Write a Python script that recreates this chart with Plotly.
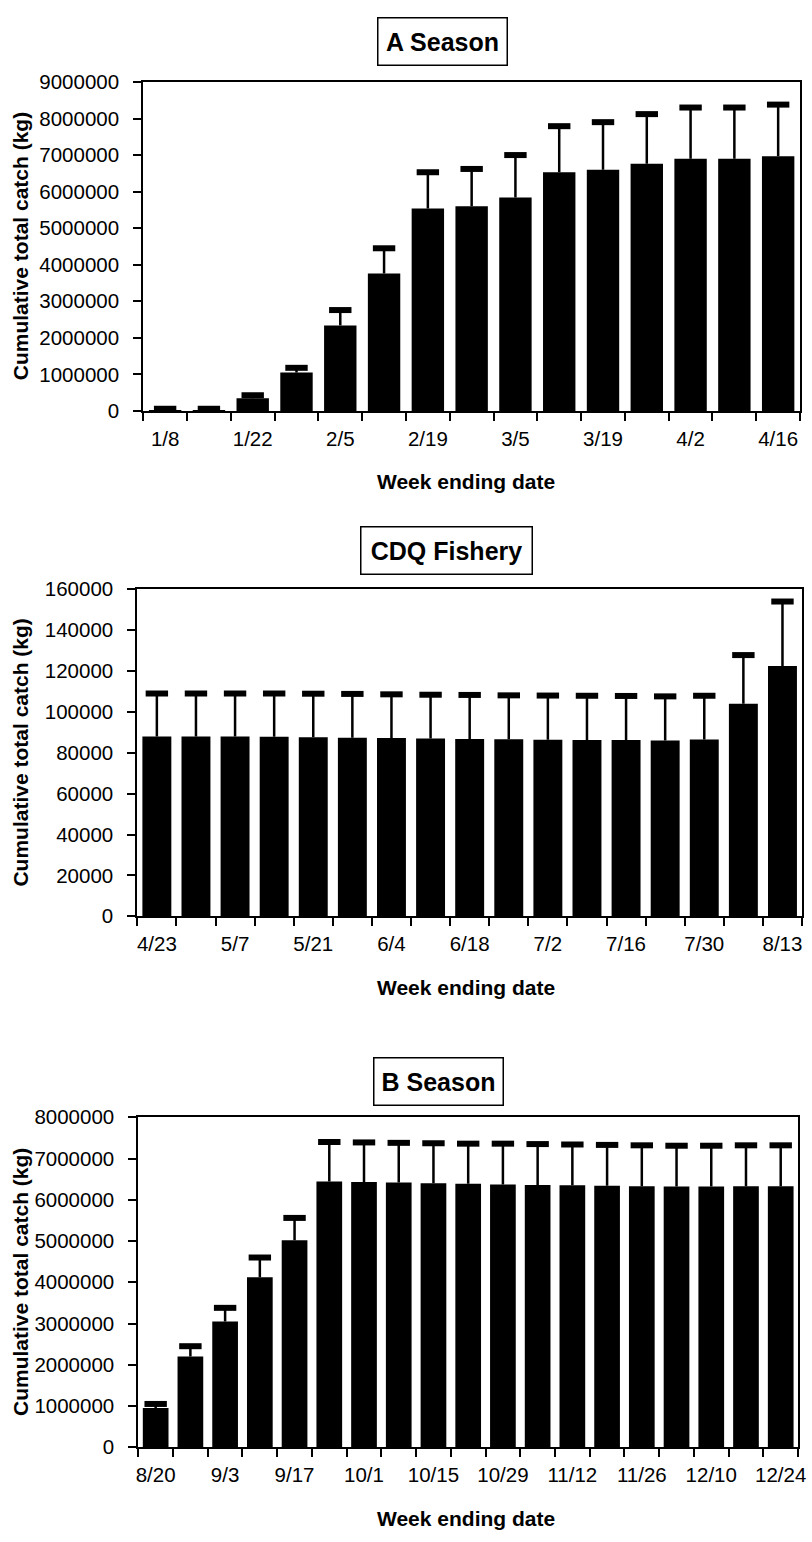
import plotly.graph_objects as go

W, H = 812, 1542
FONT = "Arial, Liberation Sans, Helvetica, sans-serif"

# ---------------- data ----------------
a_weeks = ["1/8", "1/15", "1/22", "1/29", "2/5", "2/12", "2/19", "2/26",
           "3/5", "3/12", "3/19", "3/26", "4/2", "4/9", "4/16"]
a_catch = [15000, 15000, 350000, 1050000, 2340000, 3760000, 5540000, 5600000,
           5840000, 6530000, 6600000, 6760000, 6900000, 6900000, 6970000]
a_upper = [60000, 60000, 430000, 1180000, 2760000, 4450000, 6530000, 6620000,
           7000000, 7790000, 7900000, 8120000, 8300000, 8300000, 8380000]

cdq_weeks = ["4/23", "4/30", "5/7", "5/14", "5/21", "5/28", "6/4", "6/11", "6/18",
             "6/25", "7/2", "7/9", "7/16", "7/23", "7/30", "8/6", "8/13"]
cdq_catch = [88000, 88000, 88000, 87800, 87600, 87400, 87200, 87000, 86800,
             86600, 86400, 86300, 86200, 86000, 86500, 104000, 122500]
cdq_upper = [109000, 109000, 109000, 109000, 108900, 108800, 108600, 108400, 108300,
             108100, 108000, 107900, 107800, 107600, 107900, 127800, 154000]

b_weeks = ["8/20", "8/27", "9/3", "9/10", "9/17", "9/24", "10/1", "10/8", "10/15",
           "10/22", "10/29", "11/5", "11/12", "11/19", "11/26", "12/3", "12/10",
           "12/17", "12/24"]
b_catch = [950000, 2200000, 3050000, 4120000, 5020000, 6440000, 6430000, 6420000,
           6400000, 6390000, 6370000, 6360000, 6350000, 6340000, 6330000, 6320000,
           6320000, 6330000, 6330000]
b_upper = [1050000, 2450000, 3380000, 4600000, 5560000, 7400000, 7390000, 7380000,
           7370000, 7360000, 7360000, 7350000, 7340000, 7330000, 7320000, 7310000,
           7310000, 7320000, 7320000]

panel_titles = ["A Season", "CDQ Fishery", "B Season"]
y_title = "Cumulative total catch (kg)"
x_title = "Week ending date"

# ---------------- layout geometry (pixels) ----------------
panels = [
    dict(weeks=a_weeks, catch=a_catch, upper=a_upper, left=143, right=808, top=71, bottom=405,
         yrange=[0, 9000000], dtick=1000000, title_y=30, title_x=446, title_w=124),
    dict(weeks=cdq_weeks, catch=cdq_catch, upper=cdq_upper, left=137, right=810, top=586, bottom=918,
         yrange=[0, 160000], dtick=20000, title_y=547, title_x=450, title_w=166),
    dict(weeks=b_weeks, catch=b_catch, upper=b_upper, left=138, right=806, top=1122, bottom=1457,
         yrange=[0, 8000000], dtick=1000000, title_y=1086, title_x=442, title_w=124),
]

fig = go.Figure()
annotations = []

for i, p in enumerate(panels):
    n = i + 1
    xa = "x" if n == 1 else f"x{n}"
    ya = "y" if n == 1 else f"y{n}"
    err = [u - c for u, c in zip(p["upper"], p["catch"])]
    fig.add_trace(go.Bar(
        x=p["weeks"], y=p["catch"], xaxis=xa, yaxis=ya,
        marker=dict(color="black", line=dict(width=0)),
        error_y=dict(type="data", symmetric=False, array=err,
                     arrayminus=[0] * len(err), color="black", thickness=2.5, width=0),
        showlegend=False,
    ))
    fig.add_trace(go.Scatter(
        x=p["weeks"], y=p["upper"], xaxis=xa, yaxis=ya, mode="markers",
        marker=dict(symbol="line-ew", size=16, color="black",
                    line=dict(width=6, color="black")),
        showlegend=False, cliponaxis=False,
    ))
    ticktext = [w if k % 2 == 0 else "" for k, w in enumerate(p["weeks"])]
    xkey = "xaxis" if n == 1 else f"xaxis{n}"
    ykey = "yaxis" if n == 1 else f"yaxis{n}"
    fig.layout[xkey] = dict(
        domain=[p["left"] / W, p["right"] / W], anchor=ya,
        type="category", tickmode="array", tickvals=p["weeks"], ticktext=ticktext,
        tickson="boundaries", ticks="outside", ticklen=8, tickwidth=1.5, tickcolor="black",
        showline=True, linecolor="black", linewidth=2, mirror=True,
        showgrid=False, zeroline=False, ticklabelstandoff=8, tickangle=0,
        tickfont=dict(family=FONT, size=20.5, color="black"),
        range=[-0.5, len(p["weeks"]) - 0.5],
    )
    fig.layout[ykey] = dict(
        domain=[1 - p["bottom"] / H, 1 - p["top"] / H], anchor=xa,
        range=p["yrange"], dtick=p["dtick"], tick0=0, tickformat="d",
        ticks="outside", ticklen=8, tickwidth=1.5, tickcolor="black",
        showline=True, linecolor="black", linewidth=2, mirror=True,
        showgrid=False, zeroline=False, ticklabelstandoff=10,
        tickfont=dict(family=FONT, size=20.5, color="black"),
    )
    # panel title box
    annotations.append(dict(
        text="<b>" + panel_titles[i] + "</b>", xref="paper", yref="paper",
        x=p["title_x"] / W, y=1 - p["title_y"] / H, xanchor="center", yanchor="middle",
        showarrow=False, font=dict(family=FONT, size=25, color="black"),
        bordercolor="black", borderwidth=1.5, borderpad=2,
        width=p["title_w"], height=42, bgcolor="white",
    ))
    # y-axis title
    annotations.append(dict(
        text="<b>" + y_title + "</b>", xref="paper", yref="paper",
        x=19 / W, y=1 - (p["top"] + p["bottom"]) / 2 / H, xanchor="center", yanchor="middle",
        textangle=-90, showarrow=False, font=dict(family=FONT, size=21, color="black"),
    ))
    # x-axis title
    annotations.append(dict(
        text="<b>" + x_title + "</b>", xref="paper", yref="paper",
        x=470 / W, y=1 - (p["bottom"] + 72) / H, xanchor="center", yanchor="middle",
        showarrow=False, font=dict(family=FONT, size=21, color="black"),
    ))

fig.update_layout(
    width=W, height=H, autosize=False,
    margin=dict(l=0, r=0, t=0, b=0),
    paper_bgcolor="white", plot_bgcolor="white",
    bargap=0.26, annotations=annotations,
    font=dict(family=FONT, color="black"),
)

fig.write_html("out.html")
